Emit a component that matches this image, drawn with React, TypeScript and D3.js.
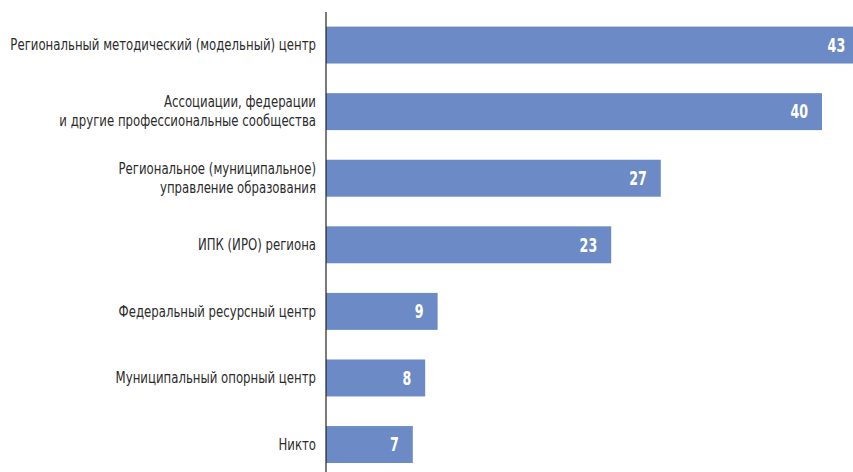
import React from "react";
import * as d3 from "d3";

const categories: string[][] = [
  ["Региональный методический (модельный) центр"],
  ["Ассоциации, федерации", "и другие профессиональные сообщества"],
  ["Региональное (муниципальное)", "управление образования"],
  ["ИПК (ИРО) региона"],
  ["Федеральный ресурсный центр"],
  ["Муниципальный опорный центр"],
  ["Никто"],
];
const values: number[] = [43, 40, 27, 23, 9, 8, 7];

const W = 853;
const H = 472;
const FONT = "'DejaVu Sans Condensed', 'DejaVu Sans', sans-serif";

export default function App() {
  const idx = categories.map((_, i) => String(i));
  const y = d3
    .scaleBand<string>()
    .domain(idx)
    .range([12.6, 477])
    .paddingInner(0.445)
    .paddingOuter(0.21);
  const x = d3.scaleLinear().domain([0, 40]).range([326, 822]);
  const bw = y.bandwidth();

  return (
    <svg
      width={W}
      height={H}
      style={{ position: "absolute", left: 0, top: 0, background: "#fff" }}
      fontFamily={FONT}
    >
      {values.map((v, i) => {
        const yy = y(String(i))!;
        const cy = yy + bw / 2;
        const lines = categories[i];
        const lh = 19;
        return (
          <g key={i}>
            <rect x={x(0)} y={yy} width={x(v) - x(0)} height={bw} fill="#6b8ac6" />
            <g transform={`translate(${x(v) - 14},${cy}) scale(0.74,1)`}>
              <text
                x={0}
                y={0}
                dy="0.36em"
                textAnchor="end"
                fill="#fff"
                fontWeight="bold"
                fontSize={19}
              >
                {v}
              </text>
            </g>
            {lines.map((l, j) => (
              <g
                key={j}
                transform={`translate(316,${cy + (j - (lines.length - 1) / 2) * lh}) scale(0.87,1)`}
              >
                <text x={0} y={0} dy="0.35em" textAnchor="end" fill="#2b2b2b" fontSize={15}>
                  {l}
                </text>
              </g>
            ))}
          </g>
        );
      })}
      <line x1={x(0)} x2={x(0)} y1={12} y2={H} stroke="#222" strokeWidth={1.2} />
    </svg>
  );
}
